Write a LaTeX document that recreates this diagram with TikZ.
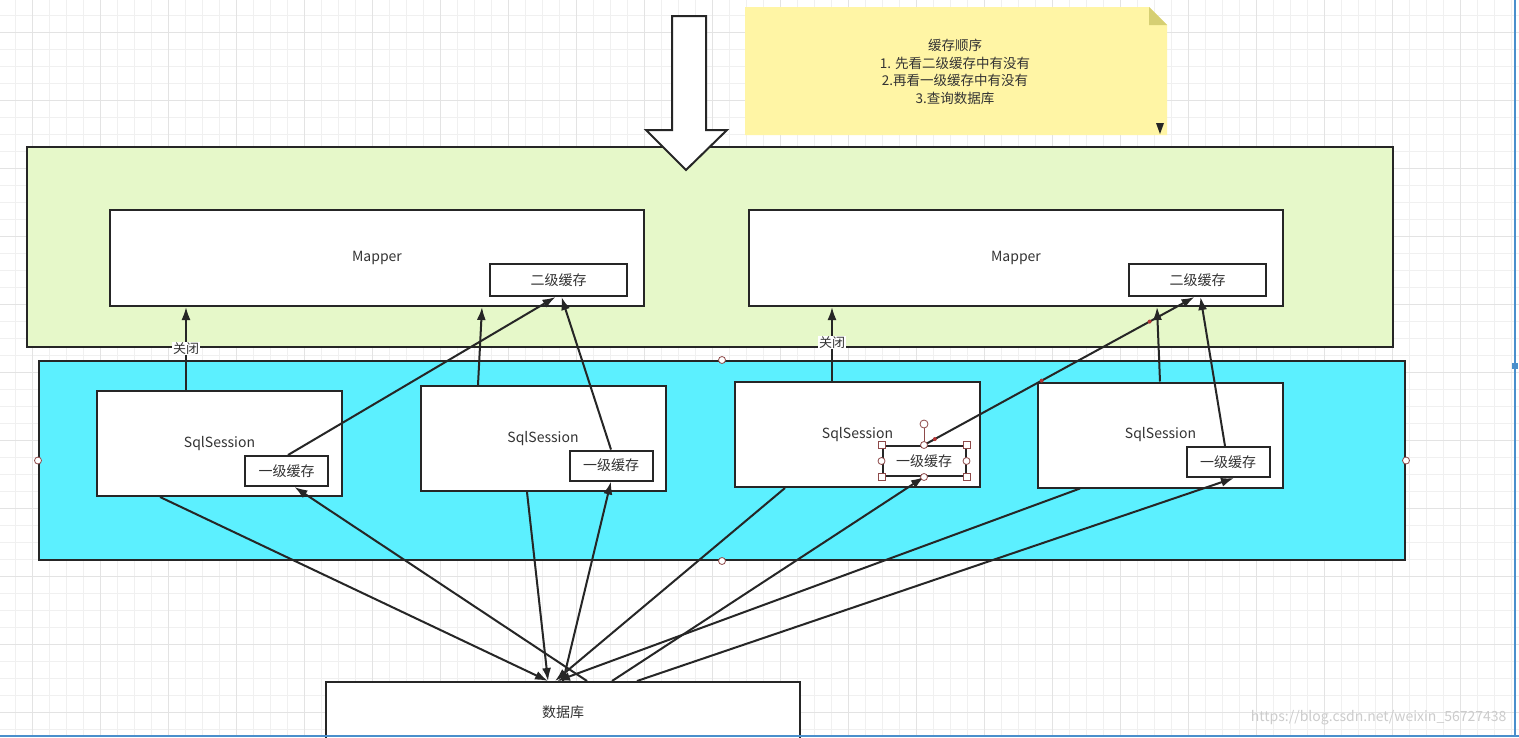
\documentclass[tikz,border=0pt]{standalone}
\usepackage{fontspec}
\setmainfont{Noto Sans CJK SC}
\usepackage{tikz}
\usetikzlibrary{calc}
\usetikzlibrary{arrows.meta}
\definecolor{edge}{HTML}{262626}
\definecolor{txt}{HTML}{333333}
\definecolor{mapperbg}{HTML}{E6F8C9}
\definecolor{sessionbg}{HTML}{5CF0FF}
\definecolor{notebg}{HTML}{FFF5A5}
\definecolor{notefold}{HTML}{D6CF73}
\definecolor{handle}{HTML}{8E4A4A}
\definecolor{frame}{HTML}{4A8FCC}
\tikzset{
  box/.style={draw=edge, line width=2pt, fill=white, text=txt, font=\fontsize{14}{17}\selectfont, inner sep=0pt},
  layer/.style={draw=edge, line width=2pt, inner sep=0pt},
  arr/.style={draw=edge, line width=2pt, -{Latex[length=13pt,width=9pt]}},
  lbl/.style={fill=white, text=txt, font=\fontsize{13}{15}\selectfont, inner sep=1pt},
  knob/.style={draw=handle, fill=white, line width=0.8pt},
  reddot/.style={circle, fill=handle!70!red, inner sep=0pt, minimum size=4pt},
}
\newcommand{\createmapper}[3]{\node[box, minimum width=534pt, minimum height=96pt] (#1) at (#2) {Mapper}; \node[box, minimum width=137pt, minimum height=32pt] (#1c) at (#3) {二级缓存};}
\newcommand{\createsession}[3]{\node[box, minimum width=245pt, minimum height=105pt] (#1) at (#2) {SqlSession}; \node[box, minimum width=83pt, minimum height=30pt] (#1c) at (#3) {一级缓存};}

\begin{document}
\begin{tikzpicture}[x=1pt, y=-1pt]
        \useasboundingbox (0,0) rectangle (1519,737);
        \fill[white] (0,0) rectangle (1519,737);
        %grid
        \foreach \i in {0, 1, ..., 89} {
        \draw[gray!12, line width=0.8pt] (15+17*\i,0) -- (15+17*\i,737);}
        \foreach \i in {0, 1, ..., 43} {
        \draw[gray!12, line width=0.8pt] (0,15+17*\i) -- (1519,15+17*\i);}
        \foreach \i in {1, 5, ..., 89} {
        \draw[gray!22, line width=0.8pt] (15+17*\i,0) -- (15+17*\i,737);}
        \foreach \i in {1, 5, ..., 43} {
        \draw[gray!22, line width=0.8pt] (0,15+17*\i) -- (1519,15+17*\i);}

        %note
        \fill[notebg] (745,7) -- (1149,7) -- (1167,25) -- (1167,135) -- (745,135) -- cycle;
        \fill[notefold] (1149,7) -- (1167,25) -- (1149,25) -- cycle;
        \fill[edge] (1156,123) -- (1164,123) -- (1160,134) -- cycle;
        \node[text=txt, align=center, font=\fontsize{13.5}{17.7}\selectfont] (order) at (955,72) {缓存顺序\\1. 先看二级缓存中有没有\\2.再看一级缓存中有没有\\3.查询数据库};

        %layers
        \node[layer, fill=mapperbg, minimum width=1366pt, minimum height=200pt] (tier2) at (710,247) {};
        \node[layer, fill=sessionbg, minimum width=1366pt, minimum height=199pt] (tier1) at (722,460.5) {};
        \filldraw[fill=white, draw=edge, line width=2pt] (672,16) -- (706,16) -- (706,130) -- (727,130) -- (686,170) -- (646,130) -- (672,130) -- cycle;

        \createmapper{m1}{377,258}{558.5,280}
        \createmapper{m2}{1016,258}{1197.5,280}
        \createsession{s1}{219.5,443.5}{286.5,471}
        \createsession{s2}{543,438.5}{611,465.5}
        \createsession{s3}{857.5,434.5}{924,461}
        \createsession{s4}{1160.5,435}{1228,462}
        \node[box, minimum width=474pt, minimum height=60pt] (db) at (563,712) {数据库};

        %up to mapper
        \draw[arr] ([xshift=-33.5pt]s1.north) -- ([xshift=-191pt]m1.south) node[lbl, pos=.5] {关闭};
        \draw[arr] ([xshift=-65pt]s2.north) -- ([xshift=105pt]m1.south);
        \draw[arr] ([xshift=-25.5pt]s3.north) -- ([xshift=-184pt]m2.south) node[lbl, pos=.52] {关闭};
        \draw[arr] ([xshift=-0.5pt]s4.north) -- ([xshift=141pt]m2.south);
        \draw[arr] ([xshift=1.5pt]s1c.north) -- ([xshift=-3pt]m1c.south);
        \draw[arr] (s2c.north) -- ([xshift=3pt]m1c.south);
        \draw[arr] (s3c.north) -- node[reddot, pos=.04] {} node[reddot, pos=.435] {} node[reddot, pos=.834] {} ([xshift=-3pt]m2c.south);
        \draw[arr] ([xshift=-3pt]s4c.north) -- ([xshift=3pt]m2c.south);

        %database
        \draw[arr] ([xshift=-59.5pt]s1.south) -- ([xshift=-15pt]db.north);
        \draw[arr] ([xshift=24pt]db.north) -- ([xshift=8pt]s1c.south);
        \draw[arr] ([xshift=-16pt]s2.south) -- ([xshift=-15pt]db.north);
        \draw[arr] (db.north) -- (s2c.south);
        \draw[arr] ([xshift=-72.5pt]s3.south) -- ([xshift=-8pt]db.north);
        \draw[arr] ([xshift=49pt]db.north) -- (s3c.south);
        \draw[arr] ([xshift=-80.5pt]s4.south) -- ([xshift=-6pt]db.north);
        \draw[arr] ([xshift=74pt]db.north) -- ([xshift=6pt]s4c.south);

        %handles
        \foreach \a in {west, east, north, south} {
        \draw[knob] (tier1.\a) circle (3.5pt);}
        \draw[handle, line width=0.8pt] (s3c.north) -- ([yshift=21pt]s3c.north);
        \draw[knob] ([yshift=21pt]s3c.north) circle (4pt);
        \foreach \a in {north west, north east, south west, south east} {
        \draw[knob] ([shift={(-3.5pt,-3.5pt)}]s3c.\a) rectangle ++(7,-7);}
        \foreach \a in {west, east, north, south} {
        \draw[knob] (s3c.\a) circle (3.5pt);}

        \draw[frame, line width=1.5pt] (1515,0) -- (1515,737);
        \draw[frame, line width=1.5pt] (0,736) -- (1519,736);
        \fill[frame] (1512,363) rectangle (1518,369);
        \node[text=gray!40, font=\fontsize{14}{16}\selectfont, anchor=east] (mark) at (1510,718) {https://blog.csdn.net/weixin\_56727438};
    \end{tikzpicture}
\end{document}
